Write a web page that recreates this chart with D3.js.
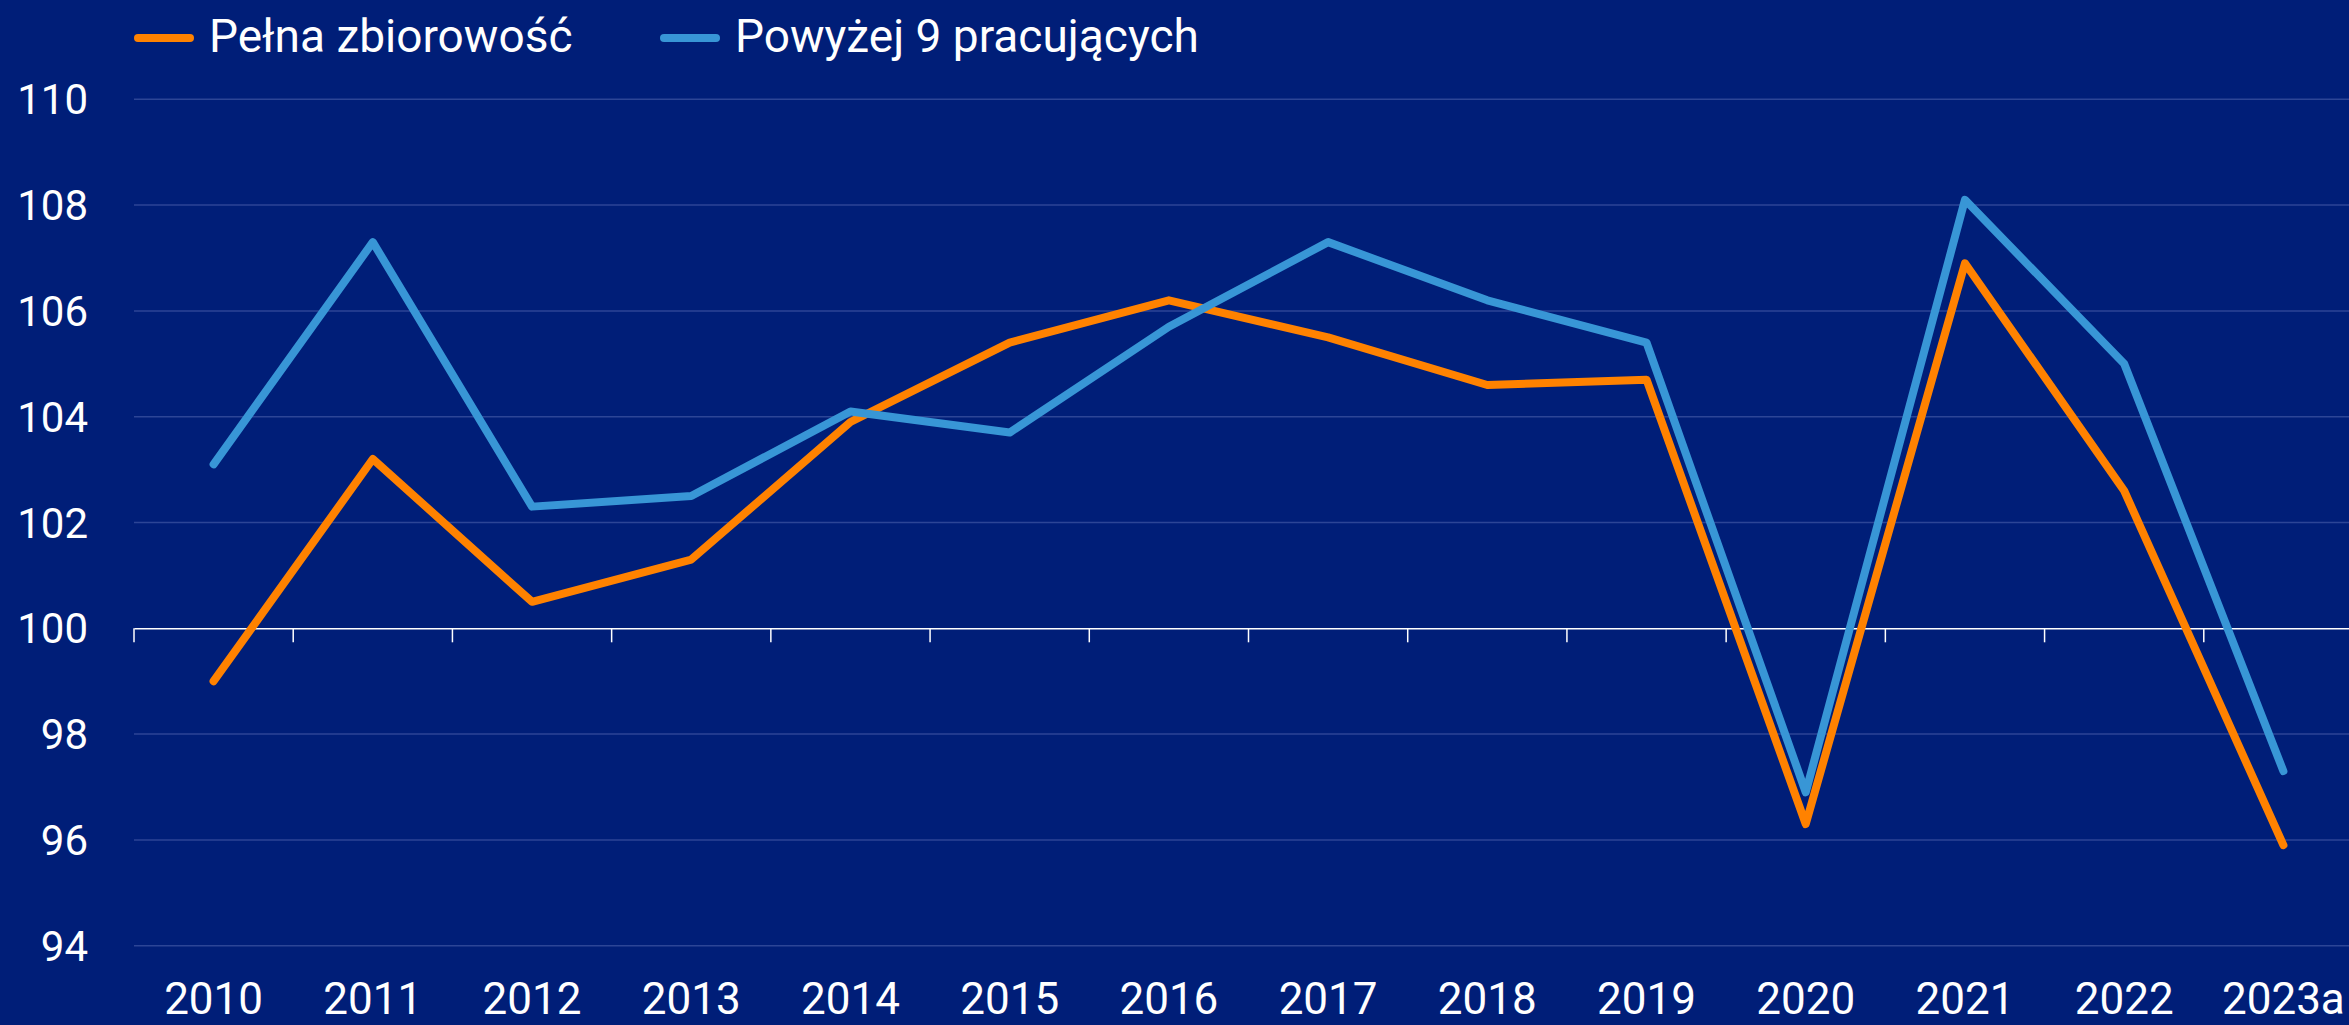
<!DOCTYPE html>
<html>
<head>
<meta charset="utf-8">
<script src="https://cdn.jsdelivr.net/npm/d3@7"></script>
<style>
    html, body { margin: 0; padding: 0; background: #001e78; overflow: hidden; }
    text { font-family: Roboto, "Open Sans", sans-serif; fill: #ffffff; }
</style>
</head>
<body>
<script>
const years = ["2010", "2011", "2012", "2013", "2014", "2015", "2016", "2017", "2018", "2019", "2020", "2021", "2022", "2023a"];
const pelna = [99.0, 103.2, 100.5, 101.3, 103.9, 105.4, 106.2, 105.5, 104.6, 104.7, 96.3, 106.9, 102.6, 95.9];
const powyzej9 = [103.1, 107.3, 102.3, 102.5, 104.1, 103.7, 105.7, 107.3, 106.2, 105.4, 96.9, 108.1, 105.0, 97.3];
const yTicks = [94, 96, 98, 100, 102, 104, 106, 108, 110];
const seriesNames = ["Pełna zbiorowość", "Powyżej 9 pracujących"];
const colors = ["#ff8200", "#3896d6"];

const width = 2349, height = 1025;

let svg = d3.select("body").append("svg")
    .attr("width", width)
    .attr("height", height);

svg.append("rect")
    .attr("width", width)
    .attr("height", height)
    .attr("fill", "#001e78");

let x = d3.scaleBand()
    .domain(years)
    .range([134, 2363])
    .padding(0);

let y = d3.scaleLinear()
    .domain([94, 110])
    .range([945.7, 99.3]);

// gridlines
svg.append("g")
    .selectAll("line")
    .data(yTicks.filter(d => d !== 100))
    .join("line")
    .attr("x1", 134)
    .attr("x2", width)
    .attr("y1", d => y(d))
    .attr("y2", d => y(d))
    .attr("stroke", "#2c4596")
    .attr("stroke-width", 1.5);

// y labels
svg.append("g")
    .selectAll("text")
    .data(yTicks)
    .join("text")
    .attr("x", 88)
    .attr("y", d => y(d))
    .attr("dy", "0.36em")
    .attr("text-anchor", "end")
    .style("font-size", "42px")
    .text(d => d);

// axis at 100 with ticks between categories
let axis = svg.append("g")
    .attr("transform", `translate(0,${y(100)})`)
    .call(d3.axisBottom(x).tickSize(0).tickFormat(""));
axis.select(".domain").attr("stroke", "#ffffff").attr("stroke-width", 1.5);

axis.selectAll(".sep")
    .data(years)
    .join("line")
    .attr("class", "sep")
    .attr("x1", d => x(d))
    .attr("x2", d => x(d))
    .attr("y1", 0)
    .attr("y2", 14)
    .attr("stroke", "#ffffff")
    .attr("stroke-width", 1.5);

// x labels at bottom
svg.append("g")
    .selectAll("text")
    .data(years)
    .join("text")
    .attr("x", d => x(d) + x.bandwidth() / 2)
    .attr("y", 1014)
    .attr("text-anchor", "middle")
    .style("font-size", "44px")
    .text(d => d);

let line = d3.line()
    .x((d, i) => x(years[i]) + x.bandwidth() / 2)
    .y(d => y(d));

[pelna, powyzej9].forEach((data, i) => {
    svg.append("path")
        .datum(data)
        .attr("d", line)
        .attr("fill", "none")
        .attr("stroke", colors[i])
        .attr("stroke-width", 8)
        .attr("stroke-linejoin", "round")
        .attr("stroke-linecap", "round");
});

// legend
let legendX = [136, 662];
seriesNames.forEach((name, i) => {
    let g = svg.append("g").attr("transform", `translate(${legendX[i]},38)`);
    g.append("line")
        .attr("x1", 2).attr("x2", 54)
        .attr("y1", 0).attr("y2", 0)
        .attr("stroke", colors[i])
        .attr("stroke-width", 8)
        .attr("stroke-linecap", "round");
    g.append("text")
        .attr("x", 73)
        .attr("y", 14)
        .style("font-size", "46px")
        .text(name);
});
</script>
</body>
</html>
